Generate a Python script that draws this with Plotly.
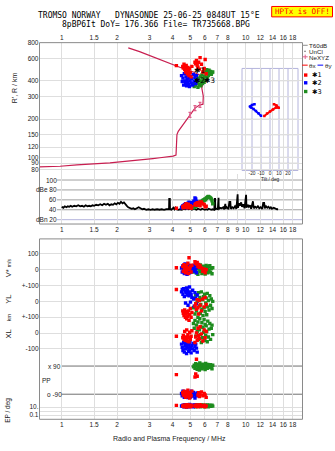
import math
import plotly.graph_objects as go

# ------------------------------------------------------------------ data
freq_ticks = [1, 1.5, 2, 3, 4, 5, 6, 7, 8, 10, 12, 14, 16, 18]
freq_ticks_mid = [1, 1.5, 2, 3, 4, 5, 6, 7, 8, 9, 10, 12, 14, 16, 18]
height_ticks = [80, 90, 100, 120, 150, 200, 300, 400, 600, 800]
dbe_ticks = [100, 80, 60, 40, 20]
dbe_tick_text = ["100", "dBe 80", "60", "40", "dBn 20"]
tilt_ticks = [-20, -10, 0, 10, 20]

# plasma-frequency profile (MHz) against real height (km), incl. topside
prof_f = [0.755, 0.98, 1.21, 1.49, 1.83, 2.07, 2.67, 3.13, 3.42, 3.88, 4.03, 4.18,
          4.19, 4.18, 4.20, 4.23, 4.30, 4.49, 4.68, 4.88, 4.98, 5.30, 5.64, 5.86,
          5.88, 5.77, 5.85, 5.95, 5.70, 5.20, 4.56, 4.13, 3.88, 3.42, 3.02, 2.65, 2.30]
prof_h = [84.0, 84.9, 87.0, 88.0, 90.2, 91.9, 94.6, 97.5, 99.0, 100.5, 102, 104,
          110, 125, 140, 151, 160, 175, 189, 208, 216, 244, 259, 262,
          303, 352, 380, 410, 440, 470, 501, 529, 548, 587, 636, 680, 727]
nexyz_f = [4.98, 5.30, 5.64]
nexyz_h = [216, 244, 259]

# wavefront tilt (deg) against height (km)
tiltx_deg = [-6.3, -3.3, 0.0, 3.3, 6.7, 9.7, 7.2, 4.4]
tiltx_h = [211, 221, 229, 238, 246, 245, 256, 262]
tilty_deg = [-10.0, -12.8, -15.6, -18.3, -21.1, -22.2, -20.0, -17.2]
tilty_h = [212, 222, 231, 240, 247, 251, 258, 262]

# receiver amplitude (dB) against frequency (MHz)
amp_f = [1.00, 1.02, 1.04, 1.06, 1.08, 1.10, 1.12, 1.14, 1.17, 1.20, 1.23, 1.26, 1.29, 1.32,
         1.35, 1.38, 1.41, 1.44, 1.47, 1.50, 1.54, 1.58, 1.62, 1.66, 1.70, 1.74, 1.78, 1.82,
         1.86, 1.90, 1.94, 1.98, 2.02, 2.06, 2.10, 2.14, 2.18, 2.22, 2.26, 2.30, 2.35, 2.40,
         2.45, 2.50, 2.56, 2.62, 2.68, 2.74, 2.80, 2.88, 2.96, 3.04, 3.12, 3.20, 3.30, 3.40,
         3.50, 3.60, 3.70, 3.80, 3.83, 3.84, 3.87, 3.88, 3.95, 4.05, 4.10, 4.15, 4.20, 4.30,
         4.40, 4.50, 4.60, 4.70, 4.80, 4.90, 5.00, 5.10, 5.20, 5.30, 5.40, 5.50, 5.60, 5.70,
         5.80, 5.90, 6.00, 6.10, 6.20, 6.30, 6.40, 6.50, 6.60, 6.75, 6.78, 6.82, 6.84, 6.95,
         7.05, 7.07, 7.12, 7.14, 7.25, 7.40, 7.55, 7.65, 7.70, 7.75, 7.78, 7.85, 7.95, 8.05,
         8.15, 8.25, 8.30, 8.45, 8.60, 8.75, 8.90, 8.98, 9.04, 9.08, 9.20, 9.30, 9.45, 9.55,
         9.70, 9.85, 9.98, 10.05, 10.10, 10.25, 10.40, 10.55, 10.70, 10.85, 10.95, 11.05,
         11.25, 11.45, 11.65, 11.85, 12.05, 12.30, 12.45, 12.60, 12.70, 12.90, 13.10, 13.30,
         13.50, 13.70, 13.90, 14.20, 14.50, 14.80, 15.00]
amp_db = [46, 44, 47, 45, 47, 46, 48, 46, 48, 47, 49, 47, 48, 46,
          49, 47, 48, 47, 49, 48, 50, 49, 51, 49, 52, 50, 52, 49,
          51, 50, 53, 51, 54, 52, 56, 53, 55, 50, 48, 45, 44, 42,
          43, 41, 43, 45, 43, 41, 42, 40, 41, 40, 41, 40, 41, 40,
          41, 40, 41, 40, 41, 62, 62, 41, 40, 44, 41, 44, 41, 40,
          41, 40, 42, 41, 43, 41, 42, 40, 42, 41, 40, 42, 41, 40,
          42, 41, 40, 41, 40, 42, 41, 40, 41, 40, 62, 62, 41, 42,
          41, 64, 64, 41, 44, 43, 45, 41, 52, 52, 42, 46, 44, 41,
          56, 56, 42, 45, 43, 47, 42, 71, 71, 44, 53, 48, 55, 46,
          51, 43, 70, 70, 44, 50, 46, 49, 42, 57, 57, 43,
          46, 44, 47, 43, 45, 42, 54, 54, 43, 47, 44, 46,
          43, 45, 42, 44, 42, 41, 41]

# echoes, trace *1
e1_f = [4.20, 4.55, 4.58, 4.62, 4.66, 4.70, 4.72, 4.75, 4.78, 4.82, 4.85, 4.88, 4.92, 4.96, 5.00,
        5.05, 5.10, 5.30, 5.35, 5.40, 5.45, 5.50, 5.55, 5.60, 5.65, 5.75, 5.85, 5.95, 6.02, 6.10]
e1_r = [527, 520, 505, 540, 490, 515, 470, 530, 495, 455, 510, 480, 440, 500, 465,
        430, 520, 560, 545, 580, 530, 510, 560, 495, 610, 540, 470, 500, 590, 455]
e1_amp = [43, 46, 44, 48, 45, 50, 47, 52, 46, 44, 49, 51, 45, 47, 48,
          43, 46, 50, 52, 49, 54, 51, 53, 55, 48, 56, 52, 50, 46, 47]
e1_vs = [12, 20, -10, 31, 5, -20, 15, 25, -5, 10, 40, -25, 75, 0, 18,
         -15, 28, 50, 42, 35, 45, 20, 32, 15, 25, 10, -10, 5, -20, 0]
e1_yl = [75, -60, -75, -90, -55, -100, -65, -80, -110, -70, -95, -60, -120, -85, -45,
         -100, -70, -30, -15, -50, 10, -40, -80, 5, -25, -60, 15, -35, 25, -20]
e1_xl = [-20, -30, -15, -40, 10, -45, -25, -35, 20, -50, -10, -30, -55, 5, -40,
         -20, 15, -60, -25, 0, -45, 30, -15, -35, 40, -5, -50, 20, -30, 10]
e1_pp = [35, -80, -95, -70, -100, -85, -110, -75, -90, -105, -65, -95, -80, -115, -88,
         -100, -70, 20, 40, 134, 25, -95, -80, -105, -90, -75, -100, -85, -95, -110]
e1_ep = [27, 20, 15, 30, 12, 25, 18, 35, 10, 22, 40, 15, 28, 20, 12,
         30, 18, 25, 15, 35, 20, 12, 25, 18, 40, 22, 15, 30, 12, 20]

# echoes, trace *2
e2_f = [4.48, 4.52, 4.56, 4.60, 4.64, 4.68, 4.71, 4.74, 4.77, 4.80, 4.83, 4.86, 4.89,
        4.92, 4.95, 4.98, 5.01, 5.05, 5.10, 5.15, 5.20, 5.25, 5.30, 5.35, 5.40, 5.45]
e2_r = [440, 395, 420, 370, 455, 400, 380, 430, 365, 410, 390, 445, 375,
        420, 360, 400, 435, 385, 415, 370, 450, 395, 425, 380, 440, 405]
e2_amp = [44, 46, 48, 45, 50, 47, 52, 49, 44, 51, 46, 53, 48,
          55, 47, 50, 45, 54, 49, 52, 56, 58, 64, 62, 57, 55]
e2_vs = [10, -15, 25, 0, -25, 35, 15, -5, 20, -30, 5, 30, -10,
         12, -20, 25, 0, -15, 18, -5, 10, 28, -10, 5, -20, 15]
e2_yl = [60, 75, 45, 80, 30, 65, -10, 55, 85, 40, 70, -25, 50,
         35, 90, 60, -5, 45, 25, 70, 15, -30, 55, 20, -15, 40]
e2_xl = [-70, -90, -110, -60, -120, -80, -100, -65, -130, -85, -95, -70, -115,
         -75, -105, -60, -90, -125, -80, -100, -65, -110, -85, -70, -95, -120]
e2_pp = [-85, -100, -70, -95, -110, -80, -90, -105, -75, -100, -88, -112, -80,
         -95, -100, -85, -108, -70, -92, -102, -78, -95, -115, -88, -100, -82]
e2_ep = [20, 15, 30, 12, 25, 40, 18, 22, 10, 35, 15, 28, 20,
         12, 45, 18, 25, 15, 30, 20, 12, 25, 35, 18, 22, 15]

# echoes, trace *3
e3_f = [5.20, 5.25, 5.30, 5.35, 5.40, 5.45, 5.50, 5.55, 5.60, 5.63, 5.67, 5.70, 5.74, 5.78, 5.82, 5.86,
        5.90, 5.94, 5.98, 6.02, 6.06, 6.10, 6.14, 6.18, 6.22, 6.27, 6.32, 6.38, 6.44, 6.50, 6.56, 6.62]
e3_r = [380, 360, 395, 370, 410, 385, 355, 420, 375, 400, 430, 365, 395, 445, 380, 415,
        470, 390, 435, 480, 405, 455, 490, 425, 470, 440, 485, 460, 475, 450, 465, 470]
e3_amp = [44, 45, 46, 47, 48, 50, 49, 52, 53, 54, 55, 56, 57, 56, 58, 59,
          60, 58, 61, 62, 60, 63, 64, 65, 66, 67, 66, 65, 64, 62, 58, 52]
e3_vs = [10, -15, 25, 0, -20, 15, -30, 5, 20, -10, 30, -5, 12, -25, 8, -18,
         22, -8, 16, -28, 4, 26, -12, 10, -20, 18, -4, 24, -16, 6, -26, 12]
e3_yl = [-40, 20, -80, 40, -60, 0, -100, 55, -30, 25, -75, -20, 60, -50, 10, -90,
         30, -40, 45, -65, -10, 20, -85, 50, -35, 5, -55, 35, -25, 15, -45, 0]
e3_xl = [60, 30, 80, -20, 50, 10, 70, -40, 20, 90, -10, 40, -60, 65, -30, 35,
         5, 85, -45, 55, -15, 45, 10, -55, 75, -25, 25, 60, -40, 30, 50, -10]
e3_pp = [85, 95, 75, 105, 90, 70, 100, 88, 65, 110, 80, 95, 85, 72, 102, 90,
         78, 98, 88, 68, 106, 82, 94, 76, 100, 86, 92, 80, 98, 88, 72, 95]
e3_ep = [20, 15, 30, 12, 25, 40, 18, 22, 15, 30, 20, 12, 35, 18, 25, 15,
         28, 20, 12, 30, 22, 15, 25, 18, 35, 12, 20, 28, 15, 22, 30, 18]

# ------------------------------------------------------------------ page geometry (px)
W, H = 335, 451
PLOT_L, PLOT_R = 39.5, 302.5
F1_PX, PX_PER_DEC_F = 61.7, 184.0          # 1 MHz position, pixels per decade
TOP_Y, H_TOP, PX_PER_DEC_H = 39.0, 800.0, 128.0
MAIN_BOT = 172.0
DBE_TOP, DBE_BOT = 172.0, 222.0
LOW_TOP, LOW_BOT = 237.0, 419.0
INSET_L, INSET_R, INSET_T, INSET_B = 242.0, 298.0, 65.0, 168.0

SANS = "Liberation Sans, Arial, sans-serif"
MONO = "DejaVu Sans Mono, monospace"
GRID = "#dedede"
FRAME = "#8a8a8a"
LAV = "#b4b4dc"
RED, BLUE, GREEN = "#ff0000", "#0000ff", "#1e8c1e"
CRIMSON, PINK = "#c81e50", "#e0608c"


def px(x):
    return x / W


def py(y):
    return 1 - y / H


def h_px(h):
    return TOP_Y + PX_PER_DEC_H * math.log10(H_TOP / h)


def lin_range(v0, y0, per_px, top, bot):
    """axis range for a strip where value v0 sits at pixel row y0"""
    return [v0 - (bot - y0) * per_px, v0 + (y0 - top) * per_px]


f_range = [(PLOT_L - F1_PX) / PX_PER_DEC_F, (PLOT_R - F1_PX) / PX_PER_DEC_F]
h_range = [math.log10(H_TOP) - (MAIN_BOT - TOP_Y) / PX_PER_DEC_H, math.log10(H_TOP)]
x_dom = [px(PLOT_L), px(PLOT_R)]

fig = go.Figure()

# ---------------------------------------------------------------- main panel
fig.add_trace(go.Scatter(x=prof_f, y=prof_h, mode="lines", xaxis="x", yaxis="y",
                         line=dict(color=CRIMSON, width=1.2)))
fig.add_trace(go.Scatter(x=nexyz_f, y=nexyz_h, mode="markers", xaxis="x", yaxis="y",
                         marker=dict(size=2, color=PINK),
                         error_y=dict(type="percent", value=4.5, color=PINK, thickness=1.3, width=1.5)))

clusters = [
    (e3_f, e3_r, e3_amp, e3_vs, e3_yl, e3_xl, e3_pp, e3_ep, GREEN),
    (e2_f, e2_r, e2_amp, e2_vs, e2_yl, e2_xl, e2_pp, e2_ep, BLUE),
    (e1_f, e1_r, e1_amp, e1_vs, e1_yl, e1_xl, e1_pp, e1_ep, RED),
]
MK = dict(symbol="square", size=3.4, line=dict(width=0))
for f, r, amp, vs, yl, xl, pp, ep, col in clusters:
    fig.add_trace(go.Scatter(x=f, y=r, mode="markers", xaxis="x", yaxis="y",
                             marker=dict(MK, color=col)))

# tilt inset
fig.add_trace(go.Scatter(x=tiltx_deg, y=tiltx_h, mode="lines+markers", xaxis="x4", yaxis="y",
                         line=dict(color=RED, width=2), marker=dict(symbol="square", size=2.5, color=RED)))
fig.add_trace(go.Scatter(x=tilty_deg, y=tilty_h, mode="lines+markers", xaxis="x4", yaxis="y",
                         line=dict(color=BLUE, width=2), marker=dict(symbol="square", size=2.5, color=BLUE)))

# ---------------------------------------------------------------- amplitude strip
fig.add_trace(go.Scatter(x=amp_f, y=amp_db, mode="lines", xaxis="x2", yaxis="y2",
                         line=dict(color="black", width=1.8)))
for f, r, amp, vs, yl, xl, pp, ep, col in clusters:
    fig.add_trace(go.Scatter(x=f, y=amp, mode="markers", xaxis="x2", yaxis="y2",
                             marker=dict(MK, color=col)))

# ---------------------------------------------------------------- lower panel
for f, r, amp, vs, yl, xl, pp, ep, col in clusters:
    for vals, ya in ((vs, "y3"), (yl, "y4"), (xl, "y5"), (pp, "y6"), (ep, "y7")):
        fig.add_trace(go.Scatter(x=f, y=vals, mode="markers", xaxis="x3", yaxis=ya,
                                 marker=dict(MK, color=col)))

tickfont = dict(family=SANS, size=6.5, color="#222")
xcommon = dict(type="log", range=f_range, domain=x_dom, showgrid=True, gridcolor=GRID,
               gridwidth=1, zeroline=False, showline=False, ticks="", tickfont=tickfont,
               tickangle=0)
ycommon = dict(showline=False, zeroline=False, ticks="", tickfont=tickfont, gridcolor=GRID)

layout = dict(
    width=W, height=H, margin=dict(l=0, r=0, t=0, b=0),
    paper_bgcolor="white", plot_bgcolor="rgba(0,0,0,0)", showlegend=False,
    xaxis=dict(xcommon, anchor="y", side="top", tickvals=freq_ticks,
               ticktext=[str(v) for v in freq_ticks]),
    yaxis=dict(ycommon, type="log", range=h_range, domain=[py(MAIN_BOT), py(TOP_Y)], anchor="x",
               tickvals=height_ticks, ticktext=[str(v) for v in height_ticks], showgrid=True),
    xaxis2=dict(xcommon, anchor="y2", side="bottom", tickvals=freq_ticks_mid,
                ticktext=[str(v) for v in freq_ticks_mid]),
    yaxis2=dict(ycommon, range=lin_range(40, 207.6, 2.0, DBE_TOP, DBE_BOT),
                domain=[py(DBE_BOT), py(DBE_TOP)], anchor="x2", showticklabels=False, showgrid=False),
    xaxis3=dict(xcommon, anchor="y3", side="bottom", tickvals=freq_ticks,
                ticktext=[str(v) for v in freq_ticks]),
    yaxis3=dict(ycommon, range=lin_range(0, 268, 6.25, LOW_TOP, LOW_BOT),
                domain=[py(LOW_BOT), py(LOW_TOP)], anchor="x3", showgrid=True,
                tickvals=[100, 0], ticktext=["100", "0"]),
    yaxis4=dict(ycommon, range=lin_range(0, 300, 6.25, LOW_TOP, LOW_BOT), overlaying="y3",
                anchor="x3", showgrid=True, tickvals=[100, 0], ticktext=["+-100", "0"]),
    yaxis5=dict(ycommon, range=lin_range(0, 332, 6.25, LOW_TOP, LOW_BOT), overlaying="y3",
                anchor="x3", showgrid=True, tickvals=[100, 0, -100], ticktext=["+-100", "0", "-100"]),
    yaxis6=dict(ycommon, range=lin_range(0, 379.5, 180 / 28.4, LOW_TOP, LOW_BOT), overlaying="y3",
                anchor="x3", showgrid=False, showticklabels=False),
    yaxis7=dict(ycommon, type="log", range=lin_range(1, 406.7, 0.25, LOW_TOP, LOW_BOT),
                overlaying="y3", anchor="x3", showgrid=True,
                tickvals=[10, 1, 0.1], ticktext=["10.", "", "0.1"]),
    xaxis4=dict(range=[(INSET_L - 270) / 0.9, (INSET_R - 270) / 0.9], domain=[px(INSET_L), px(INSET_R)],
                anchor="free", position=py(INSET_B), showgrid=False, zeroline=False, showline=False,
                ticks="", tickvals=tilt_ticks, ticktext=[str(v) for v in tilt_ticks], tickangle=0,
                ticklabelstandoff=-1, tickfont=dict(family=SANS, size=4.8, color="#222")),
)

shapes = []
# tilt inset background, frame and grid
shapes.append(dict(type="rect", xref="paper", yref="paper", x0=px(INSET_L), x1=px(INSET_R),
                   y0=py(INSET_B), y1=py(INSET_T), fillcolor="white", line=dict(color=LAV, width=1),
                   layer="between"))
for h in height_ticks:
    y = h_px(h)
    if INSET_T < y < INSET_B:
        shapes.append(dict(type="line", xref="paper", yref="paper", x0=px(INSET_L), x1=px(INSET_R),
                           y0=py(y), y1=py(y), line=dict(color=GRID, width=1), layer="between"))
for t in tilt_ticks:
    shapes.append(dict(type="line", xref="x4", yref="paper", x0=t, x1=t,
                       y0=py(INSET_B), y1=py(INSET_T), line=dict(color=LAV, width=1), layer="between"))
# amplitude reference lines
for v in dbe_ticks:
    shapes.append(dict(type="line", xref="paper", yref="y2", x0=px(57), x1=px(PLOT_R), y0=v, y1=v,
                       line=dict(color=LAV if v == 20 else "#a0a0a0", width=1), layer="below"))
# polarization reference lines
for v in (90, -90):
    shapes.append(dict(type="line", xref="paper", yref="y6", x0=px(F1_PX), x1=px(PLOT_R), y0=v, y1=v,
                       line=dict(color="#707070", width=1), layer="below"))
# panel frames
for top, bot in ((TOP_Y, DBE_BOT), (LOW_TOP, LOW_BOT)):
    shapes.append(dict(type="rect", xref="paper", yref="paper", x0=px(PLOT_L), x1=px(PLOT_R),
                       y0=py(bot), y1=py(top), line=dict(color=FRAME, width=1), layer="above"))
# transmitter status box
shapes.append(dict(type="rect", xref="paper", yref="paper", x0=px(271.7), x1=px(332.5),
                   y0=py(13), y1=py(2.5), fillcolor="#ffff00", line=dict(color="#ff0000", width=1)))
# key glyphs
shapes.append(dict(type="line", xref="paper", yref="paper", x0=px(302.7), x1=px(307.7),
                   y0=py(41.7), y1=py(41.7), line=dict(color="#a0a0a0", width=1.2)))
shapes.append(dict(type="rect", xref="paper", yref="paper", x0=px(304.5), x1=px(305.5),
                   y0=py(48.2), y1=py(47.2), fillcolor="black", line=dict(width=0)))
shapes.append(dict(type="line", xref="paper", yref="paper", x0=px(302.7), x1=px(307.7),
                   y0=py(53.3), y1=py(53.3), line=dict(color=PINK, width=1)))
shapes.append(dict(type="line", xref="paper", yref="paper", x0=px(305.2), x1=px(305.2),
                   y0=py(55.5), y1=py(51.1), line=dict(color=PINK, width=1)))
shapes.append(dict(type="line", xref="paper", yref="paper", x0=px(302.2), x1=px(307.7),
                   y0=py(61.7), y1=py(61.7), line=dict(color=RED, width=1)))
shapes.append(dict(type="line", xref="paper", yref="paper", x0=px(317.5), x1=px(323.2),
                   y0=py(61.7), y1=py(61.7), line=dict(color=BLUE, width=1)))
for yk, col in ((71.7, RED), (79.5, BLUE), (88.3, GREEN)):
    shapes.append(dict(type="rect", xref="paper", yref="paper", x0=px(304.0), x1=px(307.4),
                       y0=py(yk + 1.7), y1=py(yk - 1.7), fillcolor=col, line=dict(width=0)))

ann = []


def label(text, x, y, size=6.5, color="#222", xanchor="center", yanchor="middle",
          angle=0, family=SANS):
    ann.append(dict(text=text, x=px(x), y=py(y), xref="paper", yref="paper", showarrow=False,
                    font=dict(family=family, size=size, color=color), xanchor=xanchor,
                    yanchor=yanchor, textangle=angle, borderpad=0))


label("TROMSO NORWAY   DYNASONDE 25-06-25 0848UT 15°E", 149, 11.8, size=8, color="black", family=MONO)
label("8pBP6It DoY= 176.366 File= TR735668.BPG", 156, 20.3, size=8, color="black", family=MONO)
label("HPTx is OFF!", 302, 8, size=7.6, color="#ff0000", family=MONO)

label("T60dB", 308.3, 41.7, size=6.2, xanchor="left")
label("UnCl", 308.3, 47.7, size=6.2, xanchor="left")
label("NeXYZ", 308.3, 53.5, size=6.2, xanchor="left")
label("θx", 308.3, 61.7, size=6.2, xanchor="left")
label("θy", 323.6, 61.7, size=6.2, xanchor="left")
for yk, n in ((71.7, "1"), (79.5, "2"), (88.3, "3")):
    label("✱" + n, 310.8, yk, size=6.6, color="black", xanchor="left", family="DejaVu Sans")

# trace identifiers next to the echo clusters
for text, f, r in (("✱1", 5.18, 480), ("✱2", 5.18, 402), ("✱3", 5.86, 402)):
    ann.append(dict(text=text, x=math.log10(f), y=math.log10(r), xref="x", yref="y", showarrow=False,
                    font=dict(family="DejaVu Sans", size=7.5, color="black"), xanchor="left",
                    yanchor="middle", borderpad=0))

label("R', R / km", 14, 85, size=7, angle=-90)
label("Tilt / deg", 270, 176.6, size=4.8)
for v, t in zip(dbe_ticks, dbe_tick_text):
    label(t, 58, 207.6 - (v - 40) / 2.0, size=6.5, xanchor="right")

label("V* <span style='font-size:5px'>m/s</span>", 8.5, 266, size=7.5, angle=-90)
label("YL", 8.5, 298, size=7.5, angle=-90)
label("km", 8.5, 316.5, size=5.5, angle=-90)
label("XL", 8.5, 333, size=7.5, angle=-90)
label("x 90", 54, 365.3, size=6.5)
label("PP", 46.7, 379.7, size=6.5)
label("o -90", 54, 393.7, size=6.5)
label("EP / deg", 8.5, 410, size=6.5, angle=-90)
label("Radio and Plasma Frequency / MHz", 169.7, 439, size=7)

layout["shapes"] = shapes
layout["annotations"] = ann
fig.update_layout(**layout)
fig.write_html("out.html")
